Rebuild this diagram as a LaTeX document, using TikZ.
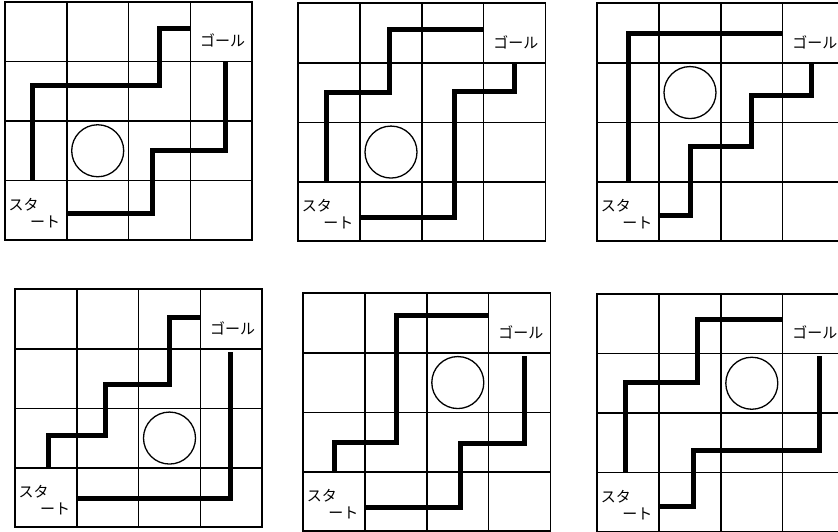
\documentclass[tikz,border=0pt]{standalone}
\usepackage{fontspec}
\newfontfamily\jpfont{Noto Sans CJK JP}

\begin{document}
\begin{tikzpicture}[x=1pt, y=-1pt,
    board/.style={x=61.8pt, y=-59.5pt},
    cellline/.style={line width=1.5pt},
    frame/.style={line width=1.8pt},
    route/.style={line width=5pt},
    ring/.style={draw, circle, line width=1.3pt, minimum size=52pt, inner sep=0pt},
    lbl/.style={font=\jpfont\fontsize{15}{17}\selectfont, inner sep=0pt},
  ]
  \useasboundingbox (0,0) rectangle (838,531);

  % empty boards, goal and start cells
  \foreach \n/\ox/\oy in {1/5/2, 2/298.3/3.3, 3/597.3/3.3, 4/15/289.3, 5/303.3/293.3, 6/597.3/294} {
    \begin{scope}[shift={(\ox,\oy)}, board]
      \foreach \k in {1,2,3} {
        \draw[cellline] (\k,0) -- (\k,4);
        \draw[cellline] (0,\k) -- (4,\k);
      }
      \draw[frame] (0,0) rectangle (4,4);
      \node[lbl] (goal\n) at (3.52,0.65) {ゴール};
      \node[lbl] (sta\n) at (0.3,3.4) {スタ};
      \node[lbl] (rt\n) at (0.65,3.69) {ート};
    \end{scope}
  }

  % board 1
  \begin{scope}[shift={(5,2)}, board]
    \node[ring] (ring1) at (1.5,2.5) {};
    \draw[route] (0.45,3) |- (2.5,1.4) |- (3,0.45);
    \draw[route] (1,3.56) -| (2.38,2.5) -| (3.56,1);
  \end{scope}

  % board 2
  \begin{scope}[shift={(298.3,3.3)}, board]
    \node[ring] (ring2) at (1.5,2.5) {};
    \draw[route] (0.46,3) |- (1.48,1.5) |- (3,0.44);
    \draw[route] (1,3.6) -| (2.52,1.49) -| (3.5,1);
  \end{scope}

  % board 3
  \begin{scope}[shift={(597.3,3.3)}, board]
    \node[ring] (ring3) at (1.5,1.5) {};
    \draw[route] (0.5,3) |- (3,0.5);
    \draw[route] (1,3.56) -| (1.5,2.4) -| (2.5,1.55) -| (3.47,1);
  \end{scope}

  % board 4
  \begin{scope}[shift={(15,289.3)}, board]
    \node[ring] (ring4) at (2.5,2.5) {};
    \draw[route] (0.54,3) |- (1.46,2.46) |- (2.5,1.6) |- (3,0.48);
    \draw[route] (1,3.52) -| (3.49,1.05);
  \end{scope}

  % board 5
  \begin{scope}[shift={(303.3,293.3)}, board]
    \node[ring] (ring5) at (2.5,1.5) {};
    \draw[route] (0.51,3) |- (1.5,2.5) |- (3,0.38);
    \draw[route] (1,3.6) -| (2.54,2.52) -| (3.58,1.05);
  \end{scope}

  % board 6
  \begin{scope}[shift={(597.3,294)}, board]
    \node[ring] (ring6) at (2.5,1.5) {};
    \draw[route] (0.46,3) |- (1.62,1.49) |- (3,0.43);
    \draw[route] (1,3.57) -| (1.56,2.63) -| (3.6,1.05);
  \end{scope}
\end{tikzpicture}
\end{document}
